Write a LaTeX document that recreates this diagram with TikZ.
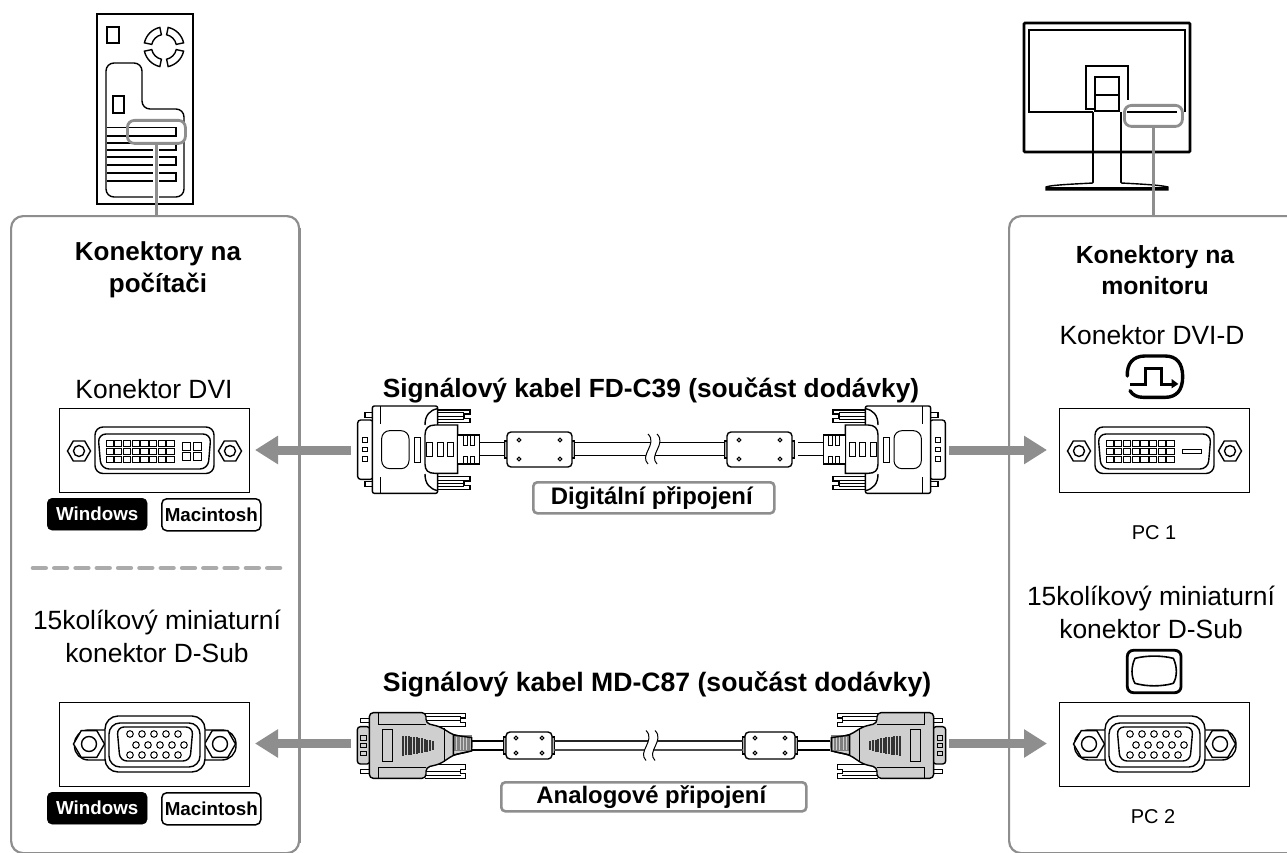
\documentclass[tikz,border=0pt]{standalone}
\usepackage{fontspec}
\setmainfont{Liberation Sans}
\usetikzlibrary{arrows.meta,calc}
\definecolor{leadgray}{HTML}{8E8E8E}
\definecolor{dashgray}{HTML}{ABABAB}
\definecolor{plugfill}{HTML}{CFCFCF}
\tikzset{
  ln/.style={draw=black,line width=1.4pt},
  thinln/.style={draw=black,line width=1pt},
  panel/.style={draw=leadgray,line width=2.2pt,rounded corners=12pt,fill=white,inner sep=0pt},
  hilite/.style={draw=leadgray,line width=2.8pt,rounded corners=7pt,inner sep=0pt},
  leader/.style={draw=leadgray,line width=2.8pt},
  bigarrow/.style={draw=leadgray,line width=9pt,-{Triangle[length=23pt,width=27pt,fill=leadgray]}},
  socketbox/.style={draw=black,line width=1.2pt,fill=white,minimum width=190pt,minimum height=84pt,inner sep=0pt},
  lbl/.style={font=\fontsize{26.4}{33}\selectfont,align=center,inner sep=0pt},
  lblb/.style={font=\fontsize{26}{32}\selectfont\bfseries,align=center,inner sep=0pt},
  title/.style={font=\fontsize{26.3}{30}\selectfont\bfseries,inner sep=0pt},
  pclab/.style={font=\fontsize{20}{22}\selectfont,inner sep=0pt},
  winbadge/.style={fill=black,draw=black,text=white,rounded corners=5pt,minimum width=100pt,minimum height=32pt,inner sep=0pt,font=\fontsize{18.8}{20}\selectfont\bfseries},
  macbadge/.style={fill=white,draw=black,line width=1.5pt,rounded corners=5pt,minimum width=99pt,minimum height=32pt,inner sep=0pt,font=\fontsize{18.8}{20}\selectfont\bfseries},
  kindbox/.style={draw=leadgray,line width=2.6pt,rounded corners=4pt,fill=white,inner sep=0pt,font=\fontsize{23.9}{26}\selectfont\bfseries}
}
% hexagonal screw with a hole
\newcommand{\hexscrew}[4]{%
  \draw[ln,fill=white] (#1,#2) +(0:#3) -- +(60:#3) -- +(120:#3) -- +(180:#3) -- +(240:#3) -- +(300:#3) -- cycle;
  \draw[ln,fill=white] (#1,#2) circle (#4);}
% DVI socket; #3 = drawing of the part to the right of the pins
\newcommand{\dvisocket}[3]{%
  \begin{scope}[shift={(#1,#2)}]
    \hexscrew{20}{43}{11.5}{5.5}
    \hexscrew{171}{43}{11.5}{5.5}
    \draw[ln,rounded corners=8pt] (36,19) rectangle (155,65.5);
    \draw[ln,rounded corners=8pt] (39,26) -- (152,26) -- (149,61) -- (42,61) -- cycle;
    \foreach \i in {0,...,7}\foreach \j in {0,1,2}{
      \draw[thinln] ({47+8.7*\i},{32+8.1*\j}) rectangle ++(7.2,6.6);}
    #3
  \end{scope}}
% VGA socket
\newcommand{\vgasocket}[2]{%
  \begin{scope}[shift={(#1,#2)}]
    \draw[ln,fill=white,rounded corners=14pt] (15.5,28) rectangle (177,58);
    \hexscrew{30}{42}{15.5}{7.5}
    \hexscrew{161}{42}{15.5}{7.5}
    \draw[ln,fill=white,rounded corners=13pt] (46,14) rectangle (146,70);
    \draw[ln,rounded corners=11pt] (50,21) rectangle (141,65);
    \draw[ln,rounded corners=7pt] (58,25) -- (134,25) -- (131,59) -- (61,59) -- cycle;
    \foreach \x in {71,83,95,107,119}{
      \draw[thinln] (\x,32) circle (3.3); \draw[thinln] (\x,53) circle (3.3);}
    \foreach \x in {77,89,101,113,125}{\draw[thinln] (\x,43) circle (3.3);}
  \end{scope}}
% DVI cable plug, in units of the 3x zoom
\newcommand{\dviplug}{%
  \foreach \ya/\yb/\yc/\yd/\ye/\yf in {60/72/85/98/68/88, 298/286/273/260/290/270}{
    \draw[ln,fill=white] (290,\ya) -- (390,\ya) -- (390,\yb) -- (372,\yb) -- (372,\yc) -- (390,\yc) -- (390,\yd) -- (290,\yd);
    \draw[thinln] (293,\ye) -- (372,\ye) (293,\yf) -- (372,\yf) (293,0.5*\ye+0.5*\yf) -- (372,0.5*\ye+0.5*\yf);}
  \draw[ln,fill=white] (75,68) rectangle (100,82);
  \draw[ln,fill=white] (75,275) rectangle (100,290);
  \draw[ln,fill=white,rounded corners=3pt] (53,90) rectangle (100,268);
  \foreach \y in {142,171,200}{\draw[thinln] (68,\y) rectangle ++(14,14);}
  \draw[ln,fill=white,rounded corners=2pt] (97,48) -- (293,48) -- (293,120) -- (293,238) -- (293,310) -- (97,310) -- cycle;
  \draw[thinln] (122,48) -- (122,103) (122,262) -- (122,310);
  \draw[ln] (255,105) .. controls (255,75) and (270,60) .. (293,56);
  \draw[ln] (255,252) .. controls (255,282) and (270,297) .. (293,302);
  \draw[ln,fill=white] (353,105) -- (285,105) .. controls (265,105) and (255,115) .. (255,135) -- (255,222) .. controls (255,242) and (265,250) .. (285,250) -- (353,250) -- cycle;
  \draw[thinln,rounded corners=8pt] (125,122) rectangle (207,236);
  \draw[thinln] (222,142) rectangle (240,217);
  \foreach \x in {260,292,322}{\draw[thinln] (\x,158) rectangle ++(18,42);}
  \draw[ln,fill=white] (353,135) rectangle (418,222);
  \draw[thinln] (370,137) -- (370,165) -- (382,165) -- (382,137) (392,137) -- (392,165) -- (404,165) -- (404,137);
  \draw[thinln] (370,220) -- (370,198) -- (382,198) -- (382,220) (392,220) -- (392,198) -- (404,198) -- (404,220);
  \draw[ln] (418,157) -- (495,157) (418,197) -- (495,197);}
% VGA cable plug, in units of the 3x zoom
\newcommand{\vgaplug}{%
  \foreach \ya/\yb/\yc/\yd/\ye/\yf in {70/84/97/110/78/91, 265/251/238/224/257/244}{
    \draw[ln,fill=white] (255,\ya) -- (377,\ya) -- (377,\yb) -- (362,\yb) -- (362,\yc) -- (377,\yc) -- (377,\yd) -- (255,\yd);
    \draw[thinln] (258,\ye) -- (362,\ye) (258,\yf) -- (362,\yf);}
  \draw[ln,fill=white] (62,85) rectangle (90,97);
  \draw[ln,fill=white] (62,238) rectangle (90,250);
  \draw[ln,fill=plugfill,rounded corners=3pt] (52,110) rectangle (90,222);
  \foreach \y in {137,160,183}{\draw[thinln] (62,\y) rectangle ++(16,13);}
  \draw[ln,fill=plugfill,rounded corners=4pt] (88,110) -- (88,68) -- (258,68) -- (258,100) -- (300,110) -- (340,135) -- (395,143) -- (395,183) -- (340,195) -- (300,222) -- (258,232) -- (258,265) -- (88,265) -- (88,222) -- cycle;
  \draw[thinln] (115,68) -- (115,102) (115,232) -- (115,265) (115,102) -- (258,102) (115,232) -- (258,232);
  \draw[thinln] (312,115) -- (312,216);
  \draw[thinln,fill=plugfill] (127,118) rectangle (158,213);
  \foreach \x/\h in {190/30,198/29,206/28,214/27,222/26,230/25,238/23,246/22,254/20,262/18,270/16,278/14}{
    \draw[draw=black!80,line width=1.8pt] (\x,167-\h) -- (\x,167+\h);}
  \fill[black!50] (342,136) rectangle (395,184);
  \foreach \x in {350,360,370,380,390}{\draw[plugfill,line width=1pt] (\x,140) -- (\x,180);}
  \draw[ln] (340,135) -- (395,143) -- (395,183) -- (340,195) -- cycle;}
% ferrite bead: x1, x2, y1, y2, hole inset, hole offset y
\newcommand{\bead}[6]{%
  \draw[ln,fill=black!30] (#1-2.5,{0.5*#3+0.5*#4-8.5}) rectangle (#2+2.5,{0.5*#3+0.5*#4+8.5});
  \draw[ln,fill=white,rounded corners=4pt] (#1,#3) rectangle (#2,#4);
  \foreach \x in {#1+#5,#2-#5}\foreach \y in {#3+#6,#4-#6}{\draw[thinln] (\x,\y) circle (1.9);}}
% break mark in the cable
\newcommand{\cablebreak}[2]{%
  \fill[white] (#1,#2-15) .. controls (#1+10,#2-5) and (#1-9,#2+6) .. (#1,#2+15) -- (#1+9,#2+15) .. controls (#1,#2+6) and (#1+19,#2-5) .. (#1+9,#2-15) -- cycle;
  \draw[thinln] (#1,#2-15) .. controls (#1+10,#2-5) and (#1-9,#2+6) .. (#1,#2+15);
  \draw[thinln] (#1+9,#2-15) .. controls (#1+19,#2-5) and (#1,#2+6) .. (#1+9,#2+15);}
\begin{document}
\begin{tikzpicture}[x=1pt,y=-1pt]
\useasboundingbox (0,0) rectangle (1287,853);

% panels
\draw[leadgray,line width=2pt] (300,228) -- (300,843);
\node[panel,anchor=north west,minimum width=288pt,minimum height=637pt] (leftpanel) at (10,215) {};
\node[panel,anchor=north west,minimum width=300pt,minimum height=637pt] (rightpanel) at (1008,215) {};
\fill[white] (1287.5,205) rectangle (1320,860);

% computer
\draw[line width=2.6pt,fill=white] (97,14) rectangle (193,204);
\draw[ln] (107,27) rectangle (119,43);
\foreach \a in {0,90,180,270}{
  \draw[line width=1.4pt,fill=white,shift={(164,47)},rotate=\a]
    (12:12.5) arc (12:78:12.5) -- (78:20) arc (78:12:20) -- cycle;}
\draw[ln,rounded corners=8pt] (106,63) -- (142,63) -- (142,109) -- (184,109) -- (184,197) -- (106,197) -- cycle;
\draw[ln] (113,96) rectangle (124,113);
\draw[ln] (107,127.5) -- (127,127.5) (107,136) -- (127,136);
\draw[ln] (107,143) -- (176,143) -- (176,150) -- (107,150);
\draw[ln] (107,157) -- (176,157) -- (176,165) -- (107,165);
\draw[ln] (107,173) -- (176,173) -- (176,181) -- (107,181);
\node[hilite,fill=white,anchor=north west,minimum width=58pt,minimum height=23pt] (pchl) at (126,119) {};
\draw[ln] (129,127.5) -- (176,127.5) -- (176,136) -- (129,136);
\draw[white,line width=6pt] (pchl.south) ++(0,1.5) -- ++(0,53);

% monitor
\draw[line width=2.6pt,fill=white,rounded corners=1pt] (1024,23) rectangle (1190,152);
\draw[ln] (1093,112) -- (1029,112) -- (1029,30) -- (1185,30) -- (1185,112);
\draw[ln] (1093,112) -- (1093,183);
\draw[ln] (1121,112) -- (1121,183);
\draw[line width=2.4pt] (1093,152) -- (1093,183) (1121,152) -- (1121,183);
\draw[ln] (1095,109) -- (1086,109) -- (1086,66) -- (1128,66) -- (1128,100);
\draw[ln] (1095,111) -- (1095,77) -- (1119,77) -- (1119,111) -- cycle;
\draw[ln] (1095,95) -- (1119,95);
\draw[ln,fill=white] (1093,183) .. controls (1075,184) and (1050,185) .. (1046,187) -- (1046,190) -- (1168,190) -- (1168,187) .. controls (1160,185) and (1140,184) .. (1121,183);
\draw[line width=2.8pt] (1046,188.7) -- (1168,188.7);
\node[hilite,fill=white,anchor=north west,minimum width=58pt,minimum height=21pt] (monhl) at (1123,104) {};
\draw[ln] (1127,112) -- (1177,112);

% leader lines
\draw[leader] (pchl.south) -- (pchl.south |- leftpanel.north);
\draw[leader] (monhl.south) -- (monhl.south |- rightpanel.north);

% left panel text
\node[lblb] (lefthead) at (158,269.5) {Konektory na\\počítači};
\node[lbl] (leftdvi) at (154,389) {Konektor DVI};
\node[lbl] (leftsub) at (157,636.5) {15kolíkový miniaturní\\konektor D-Sub};

% right panel text
\node[lblb,font=\fontsize{24.8}{31}\selectfont\bfseries] (righthead) at (1155,270.5) {Konektory na\\monitoru};
\node[lbl] (rightdvi) at (1152,335.5) {Konektor DVI-D};
\node[lbl] (rightsub) at (1151,612.5) {15kolíkový miniaturní\\konektor D-Sub};

% sockets
\node[socketbox,anchor=north west] (sockA) at (59,408) {};
\node[socketbox,anchor=north west] (sockB) at (1059,408) {};
\node[socketbox,anchor=north west] (sockC) at (59,702) {};
\node[socketbox,anchor=north west] (sockD) at (1059,702) {};
\dvisocket{59}{408}{%
  \draw[thinln] (123,34) rectangle (131,42.5);
  \draw[thinln] (134,34) rectangle (142,42.5);
  \draw[thinln] (123,44.5) rectangle (131,52);
  \draw[thinln] (134,44.5) rectangle (142,52);}
\dvisocket{1059}{408}{\draw[thinln] (123,41) rectangle (142,45.7);}
\vgasocket{59}{702}
\vgasocket{1059}{702}

% badges
\node[winbadge,anchor=north west] (winA) at (47,498) {Windows};
\node[macbadge,anchor=north west] (macA) at (161,498) {Macintosh};
\node[winbadge,anchor=north west] (winB) at (47,792) {Windows};
\node[macbadge,anchor=north west] (macB) at (161,792) {Macintosh};

% dashed divider
\coordinate (divL) at (33,568);
\coordinate (divR) at (283,568);
\draw[dashgray,line width=4.6pt,line cap=round,dash pattern=on 12.7pt off 8.6pt] (divL) -- (divR);

% icons beside the right labels
\begin{scope}[shift={(1030,320)},xscale=1/3,yscale=1/3]
  \draw[line width=3.4pt,line cap=round] (292,168) .. controls (290,130) and (310,108) .. (345,108) -- (405,108) .. controls (440,108) and (458,130) .. (458,170) .. controls (458,210) and (440,232) .. (405,232) -- (340,232) .. controls (322,232) and (308,226) .. (300,212);
  \draw[line width=3pt] (300,192) -- (347,192) -- (347,145) -- (395,145) -- (395,192) -- (425,192);
  \fill (425,177) -- (445,192) -- (425,205) -- cycle;
\end{scope}
\begin{scope}[shift={(1030,640)},xscale=1/3,yscale=1/3]
  \draw[line width=2.8pt,rounded corners=6pt] (292,31) rectangle (453,158);
  \draw[line width=1.6pt,line join=round] (315,55) .. controls (350,46) and (395,46) .. (430,55) .. controls (442,80) and (442,110) .. (430,130) .. controls (395,140) and (350,140) .. (315,130) .. controls (303,110) and (303,80) .. (315,55) -- cycle;
\end{scope}

% titles
\node[title] (titleA) at (651,390) {Signálový kabel FD-C39 (součást dodávky)};
\node[title,font=\fontsize{26.6}{30}\selectfont\bfseries] (titleB) at (657,684) {Signálový kabel MD-C87 (součást dodávky)};
\node[kindbox,anchor=north west,minimum width=241pt,minimum height=31pt] (kindA) at (532,481) {\hspace*{-4pt}Digitální připojení};
\node[kindbox,anchor=north west,minimum width=305pt,minimum height=29pt] (kindB) at (500,781) {\hspace*{-5pt}Analogové připojení};
\node[pclab] (pcA) at (1154,533) {PC 1};
\node[pclab] (pcB) at (1153,817) {PC 2};

% DVI cable
\begin{scope}[shift={(340,390)},xscale=1/3,yscale=1/3]\dviplug\end{scope}
\begin{scope}[shift={(963,390)},xscale=-1/3,yscale=1/3]\dviplug\end{scope}
\bead{507}{572}{432}{467}{12}{8}
\bead{727}{792}{432}{467}{12}{8}
\coordinate (dviL) at (574.5,442.3); \coordinate (dviR) at (724.5,442.3);
\coordinate (dviLb) at (574.5,455.7); \coordinate (dviRb) at (724.5,455.7);
\draw[ln] (dviL) -- (dviR) (dviLb) -- (dviRb);
\cablebreak{648}{449}

% VGA cable
\begin{scope}[shift={(340,690)},xscale=1/3,yscale=1/3]\vgaplug\end{scope}
\begin{scope}[shift={(963,690)},xscale=-1/3,yscale=1/3]\vgaplug\end{scope}
\draw[ln] (472,741) -- (504,741) (472,750) -- (504,750);
\draw[ln] (793,741) -- (830,741) (793,750) -- (830,750);
\bead{506}{552}{732}{759}{10}{6}
\bead{745}{795}{732}{759}{10}{6}
\coordinate (vgaL) at (554,741); \coordinate (vgaR) at (743,741);
\coordinate (vgaLb) at (554,750); \coordinate (vgaRb) at (743,750);
\draw[line width=2pt,black!85] (vgaL) -- (vgaR);
\draw[line width=1.2pt,black!70] (vgaLb) -- (vgaRb);
\cablebreak{646}{745.5}

% arrows
\coordinate (a1s) at (351,450); \coordinate (a1e) at (255,450);
\coordinate (a2s) at (949,450); \coordinate (a2e) at (1047,450);
\coordinate (a3s) at (351,743.5); \coordinate (a3e) at (255,743.5);
\coordinate (a4s) at (949,743.5); \coordinate (a4e) at (1047,743.5);
\draw[bigarrow] (a1s) -- (a1e);
\draw[bigarrow] (a2s) -- (a2e);
\draw[bigarrow] (a3s) -- (a3e);
\draw[bigarrow] (a4s) -- (a4e);
\end{tikzpicture}
\end{document}
